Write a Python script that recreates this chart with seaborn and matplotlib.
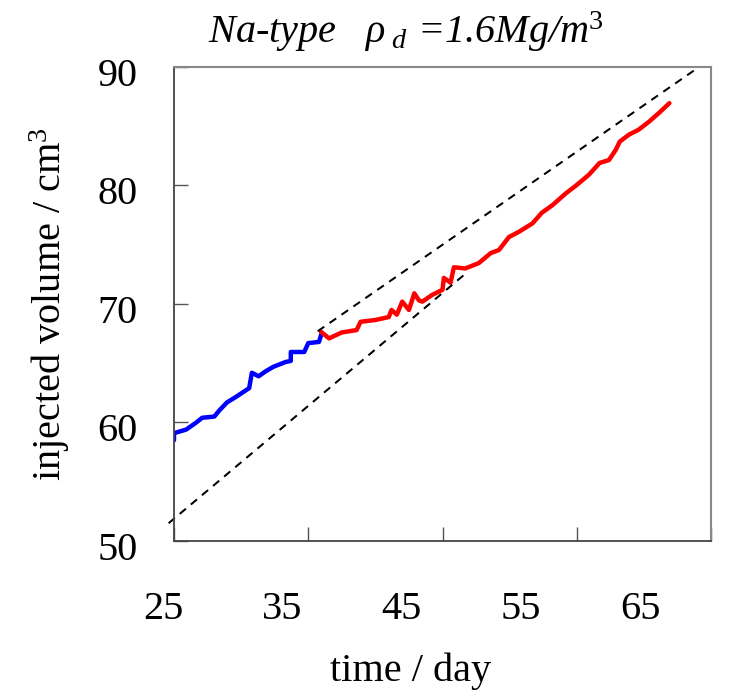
import numpy as np
import pandas as pd
import matplotlib
matplotlib.use("Agg")
import matplotlib.pyplot as plt
import matplotlib.transforms as mtransforms
import seaborn as sns

# blue segment (early stage)
blue_day = [25.0, 25.0, 25.9, 26.6, 27.1, 28.0, 28.4, 28.95, 29.6, 30.6, 30.8, 31.3,
            31.8, 32.4, 33.3, 33.7, 33.7, 34.7, 35.0, 35.8, 36.0]
blue_vol = [58.5, 59.1, 59.4, 59.95, 60.4, 60.5, 61.05, 61.7, 62.15, 62.9, 64.2, 63.9,
            64.3, 64.7, 65.1, 65.2, 65.95, 65.95, 66.7, 66.8, 67.55]

# red segment (later stage)
red_day = [35.95, 36.55, 37.5, 38.6, 38.9, 40.0, 41.0, 41.2, 41.6, 42.0, 42.5, 42.9,
           43.25, 43.5, 44.2, 45.0, 45.1, 45.6, 45.85, 46.7, 47.7, 48.6, 49.2, 49.95,
           50.7, 51.7, 52.4, 53.2, 54.2, 54.95, 55.9, 56.7, 57.4, 57.9, 58.2, 58.9,
           59.6, 60.4, 61.2, 61.9]
red_vol = [67.66, 67.1, 67.6, 67.8, 68.5, 68.65, 68.9, 69.5, 69.1, 70.2, 69.5, 70.9,
           70.3, 70.2, 70.75, 71.2, 72.2, 71.8, 73.1, 73.0, 73.45, 74.3, 74.55, 75.65,
           76.1, 76.8, 77.7, 78.35, 79.35, 80.0, 80.9, 81.9, 82.15, 83.0, 83.7, 84.3,
           84.7, 85.4, 86.2, 86.95]

# dashed guide lines
upper_day = [35.7, 65.0]
upper_vol = [67.7, 90.7]
lower_day = [24.6, 46.6]
lower_vol = [51.5, 72.45]

x_ticks = [25, 35, 45, 55, 65]
y_ticks = [50, 60, 70, 80, 90]

sns.set_theme(style="white")
plt.rcParams["font.family"] = ["Liberation Serif", "DejaVu Serif"]
plt.rcParams["mathtext.fontset"] = "custom"
plt.rcParams["mathtext.rm"] = "Liberation Serif"
plt.rcParams["mathtext.it"] = "Liberation Serif:italic"
plt.rcParams["text.color"] = "black"
plt.rcParams["axes.labelcolor"] = "black"

blue_df = pd.DataFrame({"day": blue_day, "vol": blue_vol})
red_df = pd.DataFrame({"day": red_day, "vol": red_vol})

fig = plt.figure(figsize=(7.29, 6.93), dpi=100)
ax = fig.add_axes([174 / 729, 1 - 541 / 693, 537 / 729, 474 / 693])

sns.lineplot(data=blue_df, x="day", y="vol", ax=ax, color="#0000ff", lw=3.2,
             estimator=None, sort=False)
sns.lineplot(data=red_df, x="day", y="vol", ax=ax, color="#ff0000", lw=3.2,
             estimator=None, sort=False)
ax.plot(upper_day, upper_vol, color="black", lw=1.45, dashes=(4, 3.2))
ax.plot(lower_day, lower_vol, color="black", lw=1.45, dashes=(4, 3.2), clip_on=False)

ax.set_xlim(25, 65)
ax.set_ylim(50, 90)
ax.set_xticks(x_ticks)
ax.set_yticks(y_ticks)
ax.tick_params(axis="both", direction="in", length=10, width=1.0, colors="#555555",
               labelcolor="black", labelsize=29, bottom=True, left=True,
               top=False, right=False)
ax.tick_params(axis="x", pad=36)
ax.tick_params(axis="y", pad=26)

# tick labels in the original sit a bit off their ticks
for i, lab in enumerate(ax.get_xticklabels()):
    dx = -(11 + 15 * i) / 100
    lab.set_transform(lab.get_transform() +
                      mtransforms.ScaledTranslation(dx, 0, fig.dpi_scale_trans))
for lab in ax.get_yticklabels():
    lab.set_transform(lab.get_transform() +
                      mtransforms.ScaledTranslation(0, -0.05, fig.dpi_scale_trans))

for side in ["left", "bottom"]:
    ax.spines[side].set_color("#444444")
    ax.spines[side].set_linewidth(1.3)
for side in ["top", "right"]:
    ax.spines[side].set_color("#888888")
    ax.spines[side].set_linewidth(1.5)

ax.set_xlabel("time / day", fontsize=29, color="black")
ax.set_ylabel("injected volume / cm$^{3}$", fontsize=29, color="black")
ax.xaxis.set_label_coords(0.44, -0.236)
ax.yaxis.set_label_coords(-0.19, 0.5)

ax.set_title(r"Na-type   $\rho_{\ d}$ =1.6Mg/m$^{3}$", fontsize=29, style="italic",
             x=0.432, pad=17, color="black")

fig.savefig("out.png", dpi=100)
